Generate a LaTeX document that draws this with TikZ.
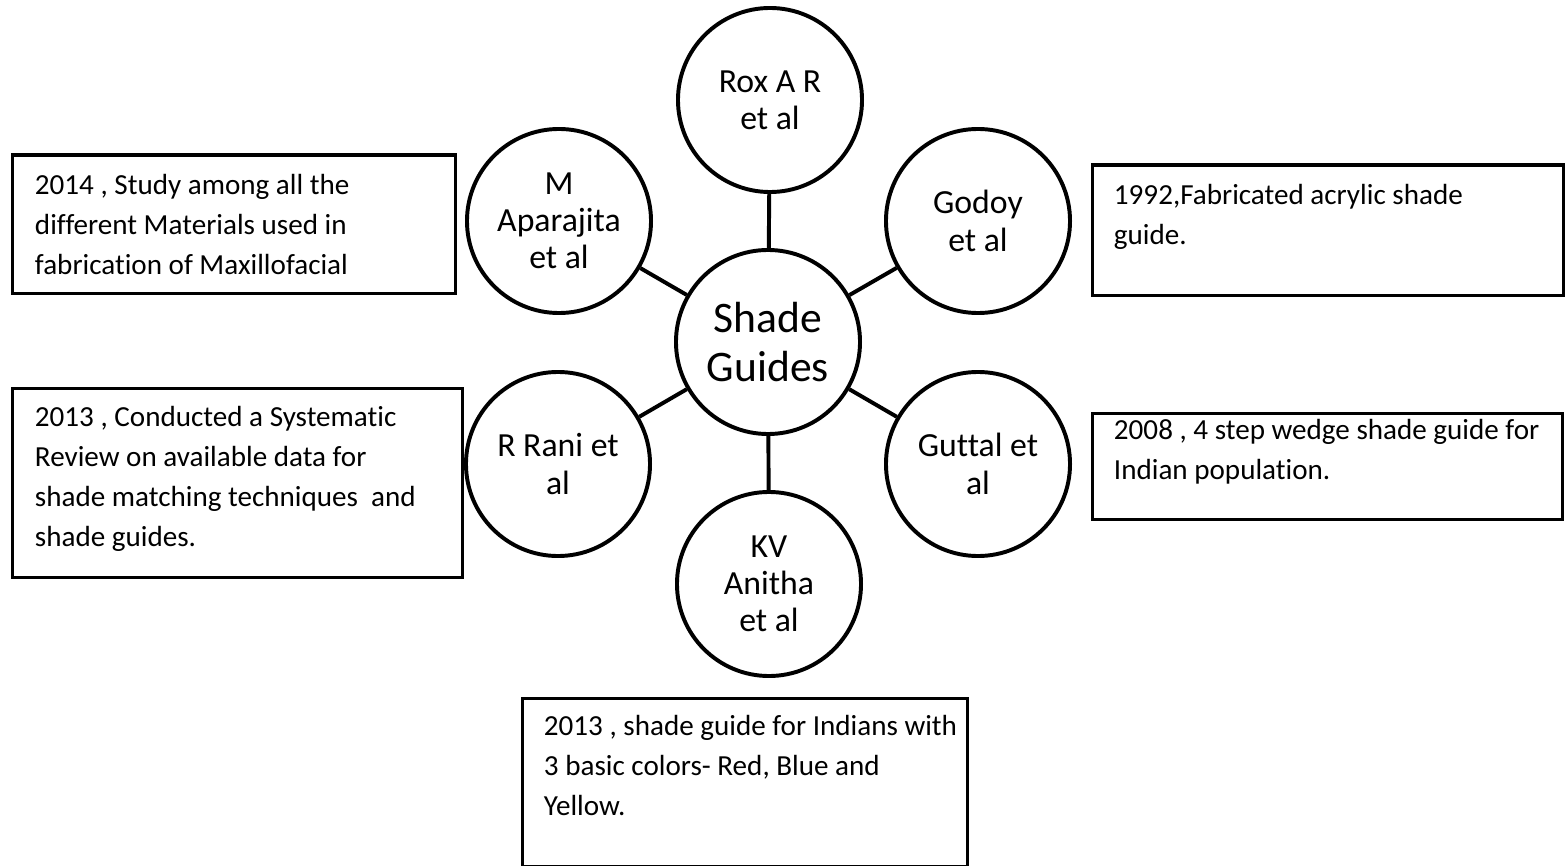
\documentclass[tikz,border=0pt]{standalone}
\usepackage{fontspec}
\setmainfont{Carlito}[Ligatures=NoCommon]
\usetikzlibrary{positioning}
\tikzset{
  every picture/.style={line width=2.8pt},
  author/.style={draw, circle, line width=2.8pt, minimum size=4.6cm, inner sep=0pt, align=center, font=\fontsize{24pt}{26.5pt}\selectfont},
  hub/.style={author, font=\fontsize{31pt}{35pt}\selectfont},
  note/.style={draw, line width=2.4pt, anchor=north west, inner sep=0pt},
  notetext/.style={anchor=north west, inner sep=0pt, align=left, font=\fontsize{20.7pt}{28.45pt}\selectfont},
  link/.style={line width=2.8pt},
}
\begin{document}
\begin{tikzpicture}[x=0.025cm, y=-0.025cm]
  \useasboundingbox (0,0) rectangle (1565,866);
  % authors round the hub
  \node[hub] (guides) at (768, 342) {Shade\\Guides};
  \node[author] (rox) at (770, 100) {Rox A R\\et al};
  \node[author] (godoy) at (978, 221) {Godoy\\et al};
  \node[author] (guttal) at (978, 464) {Guttal et\\al};
  \node[author] (anitha) at (769, 584) {KV\\Anitha\\et al};
  \node[author] (rani) at (558, 464) {R Rani et\\al};
  \node[author] (aparajita) at (559, 221) {M\\Aparajita\\et al};
  \foreach \who in {rox, godoy, guttal, anitha, rani, aparajita}
    \draw[link] (guides) -- (\who);
  % notes
  \node[note, minimum width=11.075cm, minimum height=3.45cm] (aparajitabox) at (10.5, 153.5) {};
  \node[notetext] (aparajitanote) at (33, 172) {2014 , Study among all the\\different Materials used in\\fabrication of Maxillofacial};
  \node[note, minimum width=11.79cm, minimum height=3.25cm] (godoybox) at (1090.5, 163.5) {};
  \node[notetext] (godoynote) at (1112, 182) {1992,Fabricated acrylic shade\\guide.};
  \node[note, minimum width=11.25cm, minimum height=4.725cm] (ranibox) at (10.5, 386.5) {};
  \node[notetext] (raninote) at (33, 404) {2013 , Conducted a Systematic\\Review on available data for\\shade matching techniques~ and\\shade guides.};
  \node[note, minimum width=11.75cm, minimum height=2.66cm] (guttalbox) at (1090.5, 411.5) {};
  \node[notetext] (guttalnote) at (1112, 417) {2008 , 4 step wedge shade guide for\\Indian population.};
  \node[note, minimum width=11.125cm, minimum height=4.2cm] (anithabox) at (520.5, 696.5) {};
  \node[notetext] (anithanote) at (542, 713) {2013 , shade guide for Indians with\\3 basic colors- Red, Blue and\\Yellow.};
\end{tikzpicture}
\end{document}
